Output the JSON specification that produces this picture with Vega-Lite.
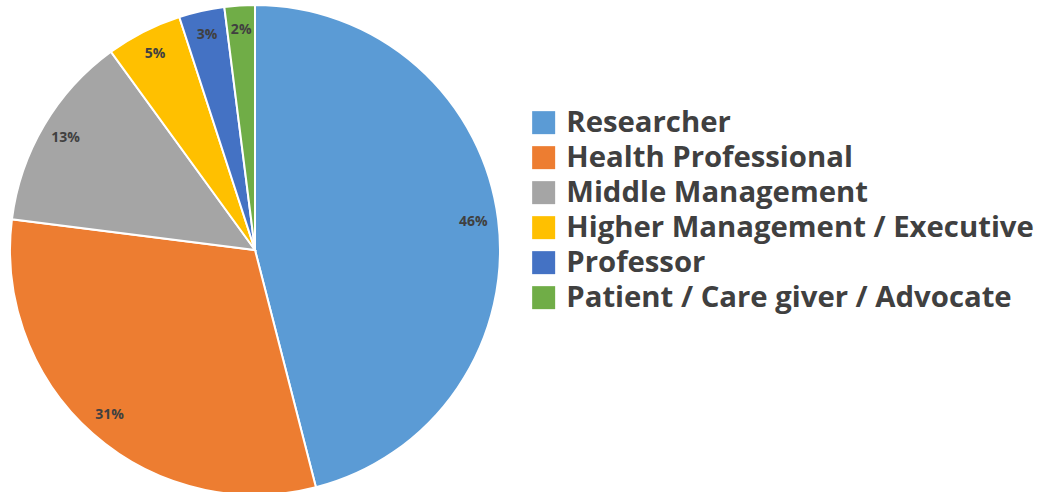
{
  "$schema": "https://vega.github.io/schema/vega-lite/v6.json",
  "width": 490,
  "height": 490,
  "padding": {"left": 6, "top": 1, "right": 0, "bottom": 0},
  "background": "white",
  "view": {"stroke": null},
  "data": {
    "values": [
      {"role": "Researcher", "value": 46, "rank": 1, "label": "46%"},
      {"role": "Health Professional", "value": 31, "rank": 2, "label": "31%"},
      {"role": "Middle Management", "value": 13, "rank": 3, "label": "13%"},
      {"role": "Higher Management / Executive", "value": 5, "rank": 4, "label": "5%"},
      {"role": "Professor", "value": 3, "rank": 5, "label": "3%"},
      {"role": "Patient / Care giver / Advocate", "value": 2, "rank": 6, "label": "2%"}
    ]
  },
  "encoding": {
    "theta": {"field": "value", "type": "quantitative", "stack": true},
    "order": {"field": "rank", "type": "quantitative"},
    "color": {
      "field": "role",
      "type": "nominal",
      "sort": ["Researcher", "Health Professional", "Middle Management", "Higher Management / Executive", "Professor", "Patient / Care giver / Advocate"],
      "scale": {
        "domain": ["Researcher", "Health Professional", "Middle Management", "Higher Management / Executive", "Professor", "Patient / Care giver / Advocate"],
        "range": ["#5B9BD5", "#ED7D31", "#A5A5A5", "#FFC000", "#4472C4", "#70AD47"]
      },
      "legend": {
        "title": null,
        "orient": "none",
        "legendX": 519,
        "legendY": 103,
        "symbolType": "square",
        "symbolSize": 529,
        "symbolStrokeWidth": 0,
        "labelFont": "Open Sans",
        "labelFontWeight": "bold",
        "labelFontSize": 29.3,
        "labelColor": "#404040",
        "labelLimit": 0,
        "labelOffset": 8,
        "rowPadding": 5
      }
    }
  },
  "layer": [
    {
      "mark": {"type": "arc", "outerRadius": 245, "stroke": "white", "strokeWidth": 2}
    },
    {
      "mark": {"type": "text", "radius": 220, "font": "Open Sans", "fontWeight": "bold", "fontSize": 14, "fill": "#404040", "align": "center", "baseline": "middle"},
      "encoding": {
        "text": {"field": "label", "type": "nominal"},
        "color": {"value": "#404040"}
      }
    }
  ]
}
